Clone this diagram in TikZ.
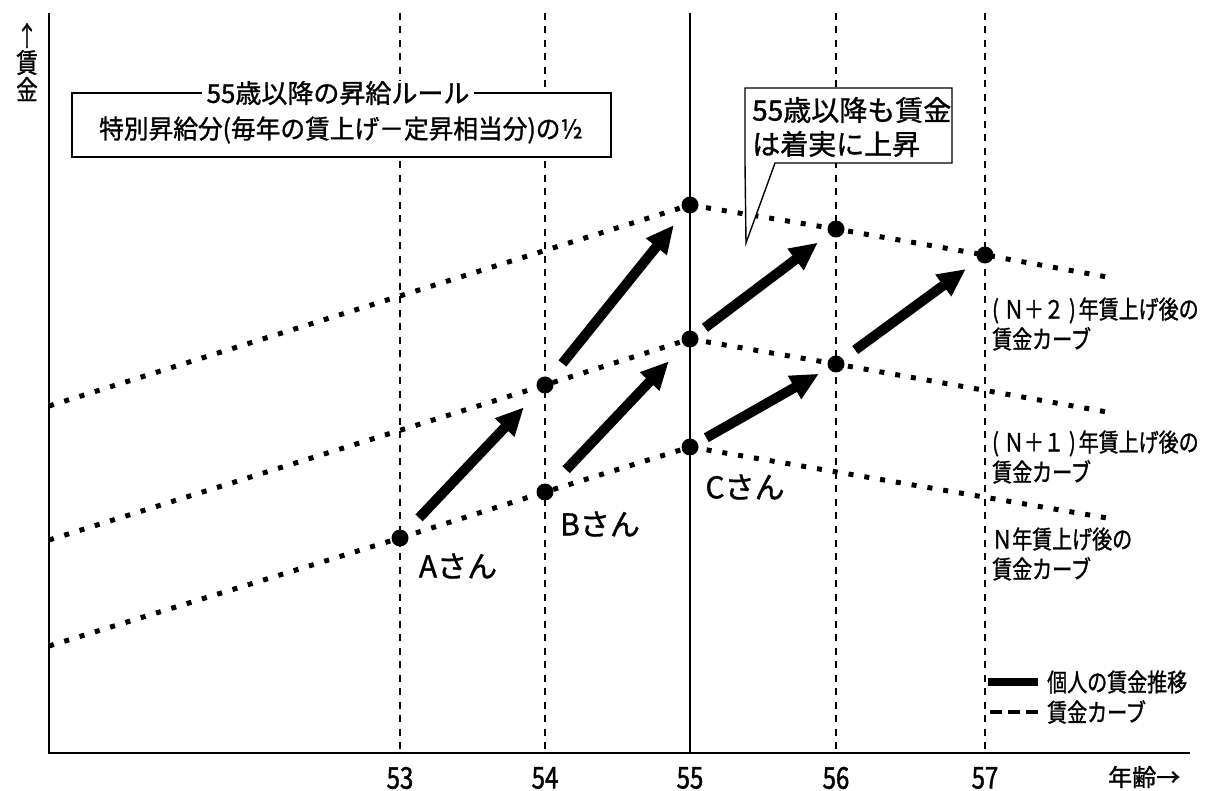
\documentclass[tikz,border=0pt]{standalone}
\usepackage{fontspec}
\usetikzlibrary{arrows.meta,calc}
\newfontfamily\jp[FakeBold=1.2]{Noto Sans CJK JP}
\newfontfamily\jpn[FakeStretch=0.8,FakeBold=1.2]{Noto Sans CJK JP}
\newfontfamily\jpm[FakeStretch=0.95,FakeBold=1.2]{Noto Sans CJK JP}
\newfontfamily\jpd[FakeStretch=0.8,FakeBold=1.4]{Noto Sans CJK JP}
\begin{document}
\begin{tikzpicture}[x=1pt,y=-1pt,
  axisline/.style={line width=1.6pt},
  vdash/.style={line width=1.5pt, dash pattern=on 7pt off 6.5pt},
  vsolid/.style={line width=1.5pt},
  wcurve/.style={line width=5pt, dash pattern=on 5pt off 11pt},
  wdot/.style={circle, fill=black, inner sep=0pt, minimum size=17pt},
  arr/.style={line width=10pt, -{Triangle[length=28pt,width=25pt]}},
  tick/.style={font=\jpd\fontsize{30}{30}\selectfont, inner sep=0pt},
  person/.style={font=\jp\fontsize{30}{34}\selectfont, inner sep=0pt},
  clabel/.style={font=\jpn\fontsize{25}{30}\selectfont, inner sep=0pt, anchor=west, align=left},
  boxline/.style={line width=1.4pt},
]
\useasboundingbox (0,0) rectangle (1211,791);

% axes
\coordinate (o) at (49,753);
\coordinate (ytop) at (49,13);
\coordinate (xend) at (1190,753);
\draw[axisline] (ytop) -- (o) -- (xend);

% vertical lines
\foreach \x/\n in {400/53,545/54,836/56,985/57}{
  \coordinate (t\n) at (\x,13);
  \coordinate (b\n) at (\x,753);
  \draw[vdash] (t\n) -- (b\n);
}
\coordinate (t55) at (690,13);
\coordinate (b55) at (690,753);
\draw[vsolid] (t55) -- (b55);

% tick labels
\foreach \x/\n in {400/53,545/54,690/55,836/56,985/57}{
  \node[tick] (lab\n) at (\x,778) {\n};
}
\node[font=\jp\fontsize{24}{26}\selectfont, inner sep=0pt, anchor=west] (xlab) at (1108,777) {年齢→};
\node[font=\jpn\fontsize{27}{27}\selectfont, inner sep=0pt, align=center] (ylab) at (27,62) {↑\\賃\\金};

% curve points
\coordinate (s0) at (49,646);
\coordinate (pA) at (400,538);
\coordinate (pB0) at (545,492);
\coordinate (pC0) at (690,447);
\coordinate (e0) at (1107,518);

\coordinate (s1) at (49,540);
\coordinate (pB1) at (545,385);
\coordinate (pC1) at (690,339);
\coordinate (pD1) at (836,364);
\coordinate (e1) at (1107,412);

\coordinate (s2) at (49,406);
\coordinate (pC2) at (690,205);
\coordinate (pD2) at (836,229);
\coordinate (pE2) at (985,255);
\coordinate (e2) at (1107,277);

\draw[wcurve] (s0) -- (pA) -- (pB0) -- (pC0) -- (e0);
\draw[wcurve] (s1) -- (pB1) -- (pC1) -- (pD1) -- (e1);
\draw[wcurve] (s2) -- (pC2) -- (pD2) -- (pE2) -- (e2);

% dots
\foreach \p in {A,B0,C0,B1,C1,D1,C2,D2,E2}{
  \node[wdot] (\p) at (p\p) {};
}

% individual wage arrows
\draw[arr, shorten <=19pt, shorten >=22pt] (A) -- (B1);
\draw[arr, shorten <=22pt, shorten >=22pt] (B0) -- (C1);
\draw[arr, shorten <=19pt, shorten >=17pt] (B1) -- (C2);
\draw[arr, shorten <=10pt, shorten >=11pt] (C0) -- (D1);
\draw[arr, shorten <=10pt, shorten >=14pt] (C1) -- (D2);
\draw[arr, shorten <=15pt, shorten >=15pt] (D1) -- (E2);

% person labels
\node[person] (la) at (458,566) {Aさん};
\node[person] (lb) at (600,524) {Bさん};
\node[person] (lc) at (745,487) {Cさん};

% curve labels
\node[clabel] (l2) at (992,324) {(\kern5ptＮ＋２\kern5pt)\kern3pt年賃上げ後の\\賃金カーブ};
\node[clabel] (l1) at (992,457) {(\kern5ptＮ＋１\kern5pt)\kern3pt年賃上げ後の\\賃金カーブ};
\node[clabel] (l0) at (992,554) {Ｎ年賃上げ後の\\賃金カーブ};

% rule box
\coordinate (r1) at (72,93);
\coordinate (r2) at (611,157);
\draw[boxline, fill=white] (r1) rectangle (r2);
\node[fill=white, inner xsep=5pt, inner ysep=0pt, font=\jp\fontsize{26}{28}\selectfont] (rtitle) at (338,93) {55歳以降の昇給ルール};
\node[inner sep=0pt, font=\jpm\fontsize{26}{28}\selectfont] (rtext) at (341,130) {特別昇給分(毎年の賃上げ－定昇相当分)の½};

% callout
\coordinate (c1) at (745,88);
\coordinate (c2) at (952,88);
\coordinate (c3) at (952,163);
\coordinate (c4) at (775,163);
\coordinate (ctip) at (746,243);
\coordinate (c5) at (745,163);
\draw[boxline, fill=white, line join=miter] (c1) -- (c2) -- (c3) -- (c4) -- (ctip) -- (c5) -- cycle;
\node[inner sep=0pt, anchor=west, align=left, font=\jp\fontsize{28}{34}\selectfont] (ctext) at (752,127) {55歳以降も賃金\\は着実に上昇};

% legend
\coordinate (g1a) at (988,682);
\coordinate (g1b) at (1038,682);
\coordinate (g2a) at (990,712);
\coordinate (g2b) at (1038,712);
\draw[line width=8pt] (g1a) -- (g1b);
\draw[line width=4pt, dash pattern=on 12pt off 6pt] (g2a) -- (g2b);
\node[clabel] (lg1) at (1047,682) {個人の賃金推移};
\node[clabel] (lg2) at (1047,712) {賃金カーブ};
\end{tikzpicture}
\end{document}
